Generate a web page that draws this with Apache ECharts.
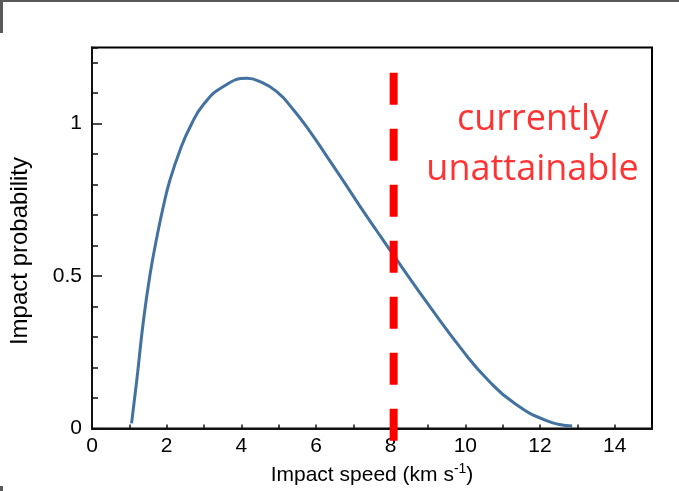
<!DOCTYPE html>
<html>
<head>
<meta charset="utf-8">
<script src="https://cdn.jsdelivr.net/npm/echarts@6/dist/echarts.min.js"></script>
<style>
  html, body { margin: 0; padding: 0; background: #fff; }
  #chart { width: 679px; height: 491px; }
</style>
</head>
<body>
<div id="chart"></div>
<script>
// 曲线数据
const speed = [1.06, 1.2, 1.38, 1.56, 1.74, 1.91, 2.09, 2.36, 2.63, 2.98, 3.52, 4.15, 4.5, 4.95, 5.4, 5.84, 6.29, 6.74, 7.18, 7.63, 8.03, 9.06, 9.95, 10.6, 11.29, 12.19, 12.86]
const prob = [0.017, 0.159, 0.356, 0.509, 0.629, 0.728, 0.816, 0.914, 0.99, 1.062, 1.122, 1.149, 1.138, 1.105, 1.045, 0.974, 0.893, 0.811, 0.729, 0.648, 0.577, 0.398, 0.252, 0.16, 0.085, 0.025, 0.008]

// 红色虚线（目前无法达到的速度）
const limitSpeed = 8.08
const limitRange = [1.167, -0.041]
const noteText = 'currently\nunattainable'
const notePos = [11.8, 0.93]

// 刻度标签
const xLabels = [0, 2, 4, 6, 8, 10, 12, 14]
const yLabels = [0, 0.5, 1]

const chart = echarts.init(document.getElementById('chart'))

const option = {
  animation: false,
  backgroundColor: '#fff',
  grid: {
    left: 92,
    right: 27,
    top: 47.5,
    bottom: 62.5,
    show: true,
    borderColor: '#000',
    borderWidth: 2,
  },
  graphic: [
    { type: 'rect', shape: { x: 0, y: 0, width: 679, height: 2 }, style: { fill: '#595959' } },
    { type: 'rect', shape: { x: 0, y: 0, width: 3, height: 33 }, style: { fill: '#595959' } },
    { type: 'rect', shape: { x: 0, y: 486, width: 3, height: 5 }, style: { fill: '#595959' } },
  ],
  xAxis: {
    type: 'value',
    min: 0,
    max: 15,
    interval: 1,
    axisLine: { lineStyle: { color: '#111', width: 2 } },
    axisTick: { inside: true, length: 4, lineStyle: { color: '#111', width: 1.5 } },
    splitLine: { show: false },
    axisLabel: {
      margin: 7,
      color: '#000',
      fontSize: 21,
      fontFamily: 'Liberation Sans',
      formatter: (v) => (xLabels.includes(v) ? String(v) : ''),
    },
    name: 'Impact speed (km s{sup|-1})',
    nameLocation: 'middle',
    nameGap: 34,
    nameTextStyle: {
      color: '#000',
      fontSize: 21,
      fontFamily: 'Liberation Sans',
      rich: {
        sup: { fontSize: 14, color: '#000', fontFamily: 'Liberation Sans', padding: [0, 0, 11, 0] },
      },
    },
  },
  yAxis: [
    {
      type: 'value',
      min: 0,
      max: 1.25,
      interval: 0.1,
      axisLine: { show: true, lineStyle: { color: '#111', width: 2 } },
      axisTick: { inside: true, length: 6, lineStyle: { color: '#111', width: 1.5 } },
      axisLabel: { show: false },
      splitLine: { show: false },
    },
    {
      type: 'value',
      position: 'left',
      min: 0,
      max: 1.25,
      interval: 0.5,
      axisLine: { show: false },
      axisTick: { inside: true, length: 10, lineStyle: { color: '#111', width: 1.5 } },
      splitLine: { show: false },
      axisLabel: {
        margin: 10,
        color: '#000',
        fontSize: 21,
        fontFamily: 'Liberation Sans',
        showMaxLabel: false,
        formatter: (v) => (yLabels.includes(v) ? String(v) : ''),
      },
      name: 'Impact probability',
      nameLocation: 'middle',
      nameRotate: 90,
      nameGap: 60,
      nameTextStyle: { color: '#000', fontSize: 24, fontFamily: 'Liberation Sans', padding: [0, 26, 0, 0] },
    },
  ],
  series: [
    {
      name: 'probability',
      type: 'line',
      smooth: 0.5,
      showSymbol: false,
      lineStyle: { color: '#4372a1', width: 3 },
      data: speed.map((x, i) => [x, prob[i]]),
      z: 2,
    },
    {
      name: 'limit',
      type: 'line',
      clip: false,
      showSymbol: false,
      lineStyle: { color: '#ff0000', width: 8, type: [32, 24], cap: 'butt' },
      data: limitRange.map((y) => [limitSpeed, y]),
      z: 3,
    },
    {
      name: 'note',
      type: 'scatter',
      symbolSize: 1,
      itemStyle: { color: 'transparent' },
      silent: true,
      label: {
        show: true,
        position: 'inside',
        formatter: noteText,
        color: '#ff0000',
        fontSize: 36,
        lineHeight: 50,
        fontFamily: 'Open Sans',
        align: 'center',
        verticalAlign: 'middle',
      },
      data: [notePos],
      z: 4,
    },
  ],
}

chart.setOption(option)
</script>
</body>
</html>
